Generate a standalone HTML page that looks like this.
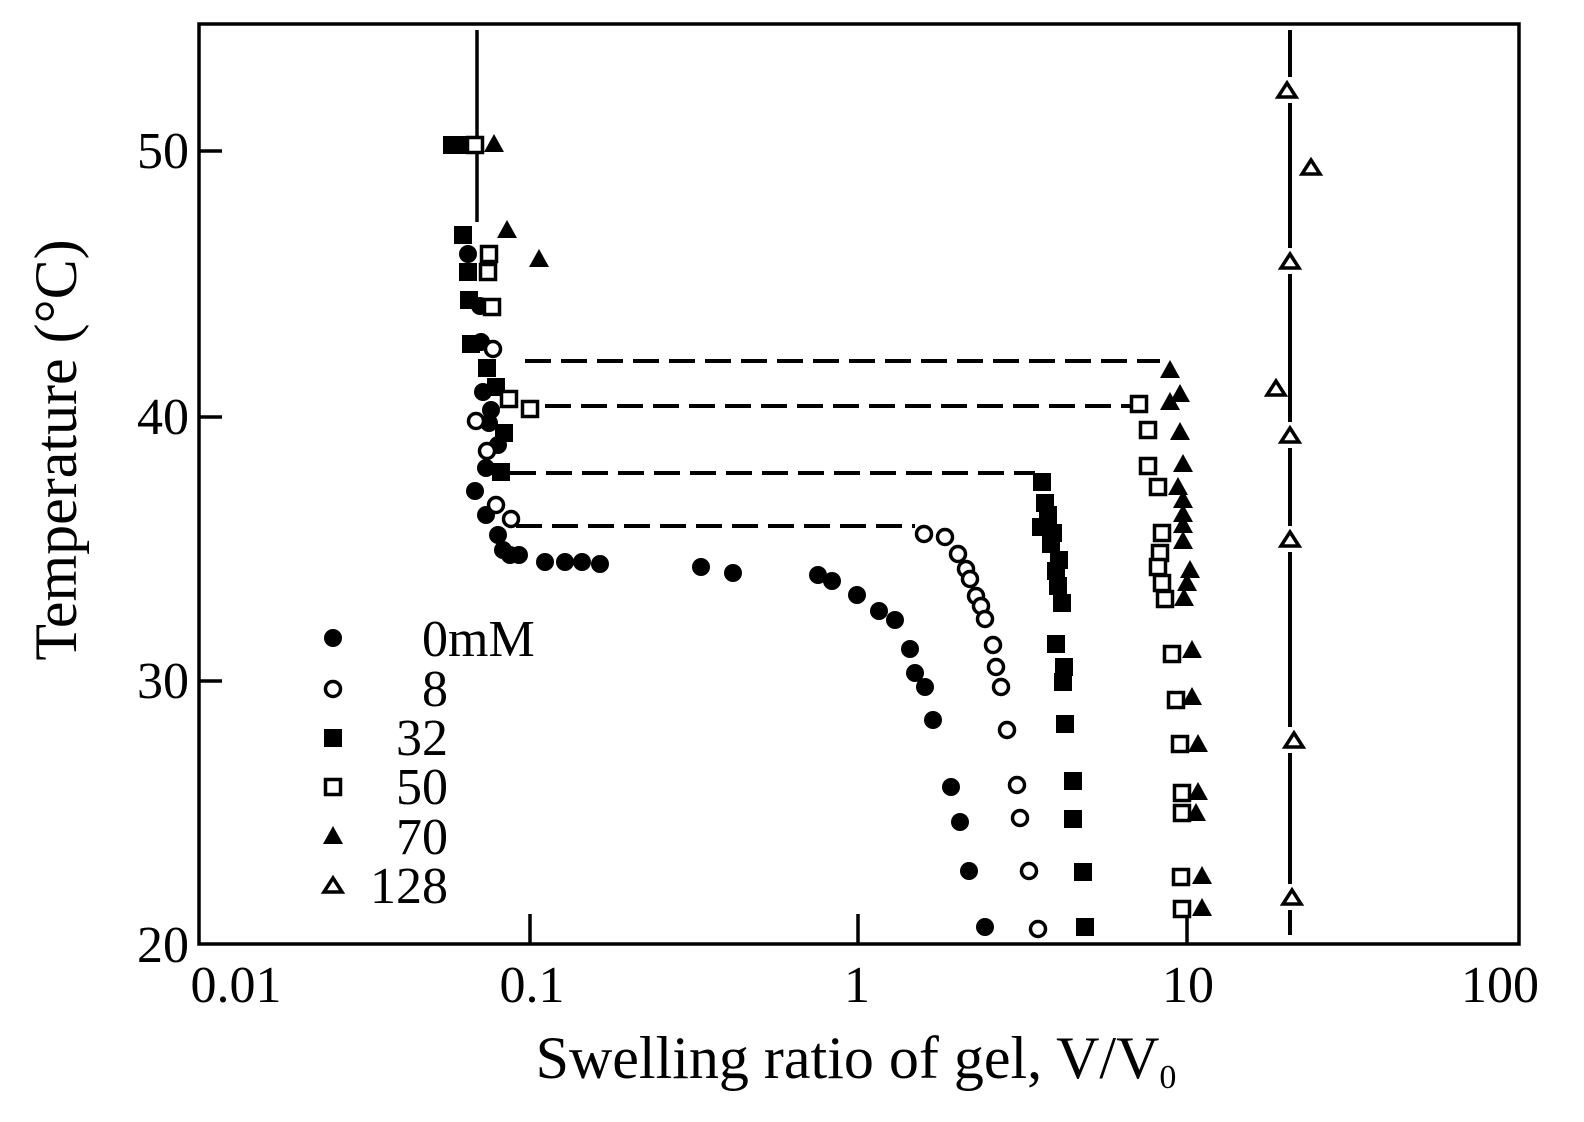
<!DOCTYPE html>
<html><head><style>body{margin:0;background:#fff}svg{display:block}</style></head><body>
<svg width="1584" height="1122" viewBox="0 0 1584 1122" xmlns="http://www.w3.org/2000/svg" font-family="Liberation Serif, serif">
<defs>
<circle id="fc" r="9" fill="#000"/>
<circle id="oc" r="7.5" fill="#fff" stroke="#000" stroke-width="3.5"/>
<rect id="fs" x="-9" y="-9" width="18" height="18" fill="#000"/>
<rect id="os" x="-7.5" y="-7.5" width="15" height="15" fill="#fff" stroke="#000" stroke-width="3.5"/>
<path id="ft" d="M0,-10 L10,8 L-10,8 Z" fill="#000"/>
<path id="ot" d="M0,-8 L9,6 L-9,6 Z" fill="#fff" stroke="#000" stroke-width="3.5"/>
<rect id="gap" x="-10" y="-14" width="20" height="26" fill="#fff"/>
</defs>
<rect x="199" y="24" width="1320" height="920" fill="none" stroke="#000" stroke-width="3.5"/>
<g stroke="#000" stroke-width="3.5">
<line x1="199" y1="151" x2="222" y2="151"/><line x1="199" y1="417" x2="222" y2="417"/><line x1="199" y1="681" x2="222" y2="681"/>
<line x1="530" y1="944" x2="530" y2="914"/><line x1="858" y1="944" x2="858" y2="914"/><line x1="1187" y1="944" x2="1187" y2="914"/>
<line x1="477" y1="30" x2="477" y2="222"/>
<line x1="1290" y1="30" x2="1290" y2="935" stroke-width="4"/>
</g>
<use href="#gap" x="1290" y="91"/><use href="#gap" x="1290" y="262"/><use href="#gap" x="1290" y="436"/><use href="#gap" x="1290" y="540"/><use href="#gap" x="1290" y="741"/><use href="#gap" x="1290" y="898"/>
<g stroke="#000" stroke-width="4" stroke-dasharray="26,10">
<line x1="525" y1="361" x2="1160" y2="361"/><line x1="545" y1="406" x2="1130" y2="406"/>
<line x1="510" y1="473" x2="1035" y2="473"/><line x1="516" y1="526" x2="915" y2="526"/>
</g>
<g font-size="52" text-anchor="middle">
<text x="163" y="168">50</text><text x="163" y="434">40</text><text x="163" y="698">30</text><text x="163" y="962">20</text>
<text x="236" y="1002">0.01</text><text x="532" y="1002">0.1</text><text x="857" y="1002">1</text><text x="1188" y="1002">10</text><text x="1500" y="1002">100</text>
</g>
<text x="856" y="1078" font-size="60" text-anchor="middle">Swelling ratio of gel, V/V<tspan font-size="34" dy="10">0</tspan></text>
<text transform="translate(76,450) rotate(-90)" font-size="60" text-anchor="middle">Temperature (°C)</text>
<g font-size="52">
<text x="448" y="656" text-anchor="end">0</text><text x="448" y="656">mM</text>
<text x="448" y="706" text-anchor="end">8</text><text x="448" y="755" text-anchor="end">32</text>
<text x="448" y="804" text-anchor="end">50</text><text x="448" y="854" text-anchor="end">70</text>
<text x="448" y="903" text-anchor="end">128</text>
</g>
<use href="#fc" x="333" y="638"/><use href="#oc" x="333" y="689"/><use href="#fs" x="333" y="738"/>
<use href="#os" x="333" y="787"/><use href="#ft" x="333" y="836"/><use href="#ot" x="333" y="886"/>
<g>
<use href="#fc" x="460" y="145"/><use href="#fc" x="468" y="254"/><use href="#fc" x="480" y="306"/><use href="#fc" x="481" y="342"/><use href="#fc" x="483" y="392"/><use href="#fc" x="491" y="410"/><use href="#fc" x="489" y="423"/><use href="#fc" x="498" y="445"/><use href="#fc" x="486" y="468"/><use href="#fc" x="475" y="491"/><use href="#fc" x="486" y="515"/><use href="#fc" x="498" y="535"/><use href="#fc" x="503" y="550"/><use href="#fc" x="510" y="555"/><use href="#fc" x="519" y="555"/><use href="#fc" x="545" y="562"/><use href="#fc" x="565" y="562"/><use href="#fc" x="582" y="562"/><use href="#fc" x="600" y="564"/><use href="#fc" x="701" y="567"/><use href="#fc" x="733" y="573"/><use href="#fc" x="818" y="575"/><use href="#fc" x="832" y="581"/><use href="#fc" x="857" y="595"/><use href="#fc" x="879" y="611"/><use href="#fc" x="895" y="620"/><use href="#fc" x="910" y="649"/><use href="#fc" x="915" y="673"/><use href="#fc" x="925" y="687"/><use href="#fc" x="933" y="720"/><use href="#fc" x="951" y="787"/><use href="#fc" x="960" y="822"/><use href="#fc" x="969" y="871"/><use href="#fc" x="985" y="927"/>
<use href="#oc" x="493" y="349"/><use href="#oc" x="476" y="421"/><use href="#oc" x="487" y="451"/><use href="#oc" x="496" y="505"/><use href="#oc" x="511" y="519"/><use href="#oc" x="924" y="534"/><use href="#oc" x="945" y="537"/><use href="#oc" x="958" y="554"/><use href="#oc" x="966" y="569"/><use href="#oc" x="970" y="579"/><use href="#oc" x="976" y="596"/><use href="#oc" x="981" y="606"/><use href="#oc" x="985" y="619"/><use href="#oc" x="993" y="645"/><use href="#oc" x="996" y="667"/><use href="#oc" x="1001" y="687"/><use href="#oc" x="1007" y="730"/><use href="#oc" x="1017" y="785"/><use href="#oc" x="1020" y="818"/><use href="#oc" x="1029" y="871"/><use href="#oc" x="1038" y="929"/>
<use href="#fs" x="452" y="145"/><use href="#fs" x="465" y="145"/><use href="#fs" x="463" y="235"/><use href="#fs" x="468" y="272"/><use href="#fs" x="469" y="300"/><use href="#fs" x="471" y="344"/><use href="#fs" x="487" y="368"/><use href="#fs" x="496" y="387"/><use href="#fs" x="504" y="433"/><use href="#fs" x="501" y="472"/><use href="#fs" x="1042" y="482"/><use href="#fs" x="1045" y="503"/><use href="#fs" x="1048" y="515"/><use href="#fs" x="1041" y="527"/><use href="#fs" x="1053" y="533"/><use href="#fs" x="1051" y="544"/><use href="#fs" x="1059" y="560"/><use href="#fs" x="1056" y="571"/><use href="#fs" x="1058" y="586"/><use href="#fs" x="1062" y="603"/><use href="#fs" x="1056" y="644"/><use href="#fs" x="1064" y="667"/><use href="#fs" x="1063" y="682"/><use href="#fs" x="1065" y="724"/><use href="#fs" x="1073" y="781"/><use href="#fs" x="1073" y="819"/><use href="#fs" x="1083" y="872"/><use href="#fs" x="1085" y="927"/>
<use href="#os" x="475" y="145"/><use href="#os" x="489" y="254"/><use href="#os" x="488" y="272"/><use href="#os" x="492" y="307"/><use href="#os" x="509" y="399"/><use href="#os" x="530" y="409"/><use href="#os" x="1139" y="404"/><use href="#os" x="1148" y="430"/><use href="#os" x="1148" y="466"/><use href="#os" x="1158" y="487"/><use href="#os" x="1162" y="533"/><use href="#os" x="1160" y="553"/><use href="#os" x="1158" y="567"/><use href="#os" x="1162" y="583"/><use href="#os" x="1165" y="599"/><use href="#os" x="1172" y="654"/><use href="#os" x="1176" y="700"/><use href="#os" x="1180" y="744"/><use href="#os" x="1182" y="793"/><use href="#os" x="1182" y="813"/><use href="#os" x="1181" y="877"/><use href="#os" x="1182" y="909"/>
<use href="#ft" x="494" y="144"/><use href="#ft" x="507" y="230"/><use href="#ft" x="539" y="259"/><use href="#ft" x="1170" y="370"/><use href="#ft" x="1170" y="402"/><use href="#ft" x="1180" y="394"/><use href="#ft" x="1180" y="432"/><use href="#ft" x="1183" y="464"/><use href="#ft" x="1178" y="487"/><use href="#ft" x="1183" y="500"/><use href="#ft" x="1183" y="514"/><use href="#ft" x="1183" y="525"/><use href="#ft" x="1183" y="541"/><use href="#ft" x="1190" y="570"/><use href="#ft" x="1187" y="583"/><use href="#ft" x="1184" y="598"/><use href="#ft" x="1192" y="650"/><use href="#ft" x="1192" y="697"/><use href="#ft" x="1198" y="744"/><use href="#ft" x="1198" y="792"/><use href="#ft" x="1196" y="813"/><use href="#ft" x="1202" y="876"/><use href="#ft" x="1202" y="908"/>
<use href="#ot" x="1287" y="91"/><use href="#ot" x="1311" y="168"/><use href="#ot" x="1290" y="262"/><use href="#ot" x="1276" y="389"/><use href="#ot" x="1290" y="436"/><use href="#ot" x="1290" y="540"/><use href="#ot" x="1294" y="741"/><use href="#ot" x="1292" y="898"/>
</g>
</svg>
</body></html>
